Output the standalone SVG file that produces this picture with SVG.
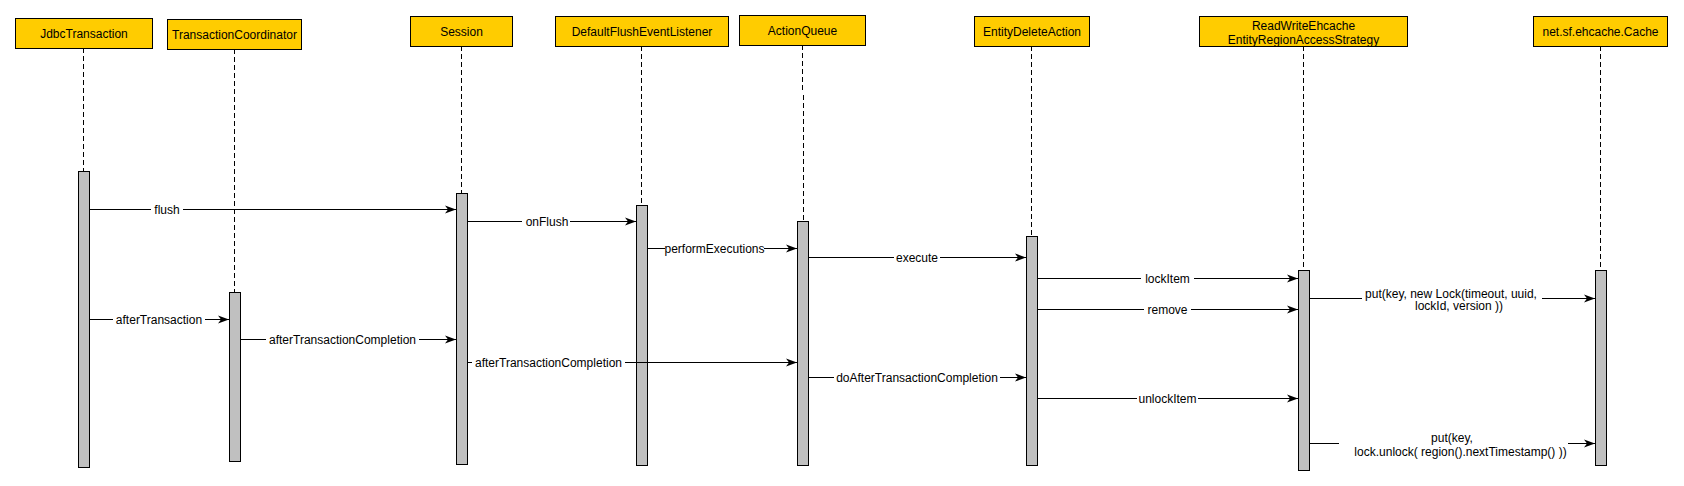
<svg xmlns="http://www.w3.org/2000/svg" width="1684" height="486" viewBox="0 0 1684 486">
<style>
.box{fill:#FFCC00;stroke:#000;stroke-width:1}
.bar{fill:#C0C0C0;stroke:#000;stroke-width:1}
.life{stroke:#000;stroke-width:1;stroke-dasharray:5 3;fill:none}
.msg{stroke:#000;stroke-width:1;fill:none;marker-end:url(#arr)}
.bg{fill:#fff}
text{font-family:"Liberation Sans",Arial,Helvetica,sans-serif;font-size:12px;fill:#000;text-anchor:middle}
</style>
<defs>
<marker id="arr" markerUnits="userSpaceOnUse" markerWidth="12" markerHeight="10" refX="11" refY="4.5" orient="auto">
<path d="M0,0.5 L11,4.5 L0,8.5 L3,4.5 Z" fill="#000"/>
</marker>
</defs>
<rect width="1684" height="486" fill="#fff"/>

<g id="lifelines">
<path class="life" d="M83.5,48 V171"/>
<path class="life" d="M234.5,49 V292"/>
<path class="life" d="M461.5,46 V193"/>
<path class="life" d="M641.5,46 V205"/>
<path class="life" d="M802.5,45 V93 M803.5,95 V221"/>
<path class="life" d="M1031.5,46 V236"/>
<path class="life" d="M1303.5,46 V270"/>
<path class="life" d="M1600.5,46 V270"/>
</g>

<g id="node-JdbcTransaction">
<rect class="box" x="15.5" y="18.5" width="137" height="30"/>
<text x="84" y="37.5">JdbcTransaction</text>
<rect class="bar" x="78.5" y="171.5" width="11" height="296"/>
</g>
<g id="node-TransactionCoordinator">
<rect class="box" x="167.5" y="19.5" width="134" height="30"/>
<text x="234.5" y="38.5">TransactionCoordinator</text>
<rect class="bar" x="229.5" y="292.5" width="11" height="169"/>
</g>
<g id="node-Session">
<rect class="box" x="410.5" y="16.5" width="102" height="30"/>
<text x="461.5" y="35.5">Session</text>
<rect class="bar" x="456.5" y="193.5" width="11" height="271"/>
</g>
<g id="node-DefaultFlushEventListener">
<rect class="box" x="555.5" y="16.5" width="173" height="30"/>
<text x="642" y="35.5">DefaultFlushEventListener</text>
<rect class="bar" x="636.5" y="205.5" width="11" height="260"/>
</g>
<g id="node-ActionQueue">
<rect class="box" x="739.5" y="15.5" width="126" height="30"/>
<text x="802.5" y="34.5">ActionQueue</text>
<rect class="bar" x="797.5" y="221.5" width="11" height="244"/>
</g>
<g id="node-EntityDeleteAction">
<rect class="box" x="974.5" y="16.5" width="115" height="30"/>
<text x="1032" y="35.5">EntityDeleteAction</text>
<rect class="bar" x="1026.5" y="236.5" width="11" height="229"/>
</g>
<g id="node-ReadWriteEhcacheEntityRegionAccessStrategy">
<rect class="box" x="1199.5" y="16.5" width="208" height="30"/>
<text x="1303.5" y="29.5">ReadWriteEhcache</text>
<text x="1303.5" y="44">EntityRegionAccessStrategy</text>
<rect class="bar" x="1298.5" y="270.5" width="11" height="200"/>
</g>
<g id="node-Cache">
<rect class="box" x="1533.5" y="16.5" width="134" height="30"/>
<text x="1600.5" y="35.5">net.sf.ehcache.Cache</text>
<rect class="bar" x="1595.5" y="270.5" width="11" height="195"/>
</g>

<g id="connectors">
<path class="msg" d="M89,209.5 H456"/>
<rect class="bg" x="151" y="202" width="32" height="14"/>
<text x="167" y="213.5">flush</text>

<path class="msg" d="M467,221.5 H636"/>
<rect class="bg" x="522" y="214" width="48" height="14"/>
<text x="547" y="225.5">onFlush</text>

<path class="msg" d="M647,248.5 H797"/>
<rect class="bg" x="665" y="241" width="99" height="14"/>
<text x="714.5" y="252.5">performExecutions</text>

<path class="msg" d="M808,257.5 H1026"/>
<rect class="bg" x="894" y="250" width="46" height="14"/>
<text x="917" y="261.5">execute</text>

<path class="msg" d="M1037,278.5 H1298"/>
<rect class="bg" x="1141" y="271" width="53" height="14"/>
<text x="1167.5" y="282.5">lockItem</text>

<path class="msg" d="M1309,298.5 H1595"/>
<rect class="bg" x="1362" y="285" width="180" height="27"/>
<text x="1451" y="297.5">put(key, new Lock(timeout, uuid,</text>
<text x="1459" y="310">lockId, version ))</text>

<path class="msg" d="M1037,309.5 H1298"/>
<rect class="bg" x="1144" y="302" width="47" height="14"/>
<text x="1167.5" y="313.5">remove</text>

<path class="msg" d="M89,319.5 H229"/>
<rect class="bg" x="113" y="312" width="92" height="14"/>
<text x="159" y="323.5">afterTransaction</text>

<path class="msg" d="M240,339.5 H456"/>
<rect class="bg" x="266" y="332" width="153" height="14"/>
<text x="342.5" y="343.5">afterTransactionCompletion</text>

<path class="msg" d="M467,362.5 H797"/>
<rect class="bg" x="472" y="355" width="153" height="14"/>
<text x="548.5" y="366.5">afterTransactionCompletion</text>

<path class="msg" d="M808,377.5 H1026"/>
<rect class="bg" x="834" y="370" width="166" height="14"/>
<text x="917" y="381.5">doAfterTransactionCompletion</text>

<path class="msg" d="M1037,398.5 H1298"/>
<rect class="bg" x="1137" y="391" width="61" height="14"/>
<text x="1167.5" y="402.5">unlockItem</text>

<path class="msg" d="M1309,443.5 H1595"/>
<rect class="bg" x="1339" y="430" width="229" height="27"/>
<text x="1452" y="442">put(key,</text>
<text x="1460.5" y="456">lock.unlock( region().nextTimestamp() ))</text>
</g>
</svg>
